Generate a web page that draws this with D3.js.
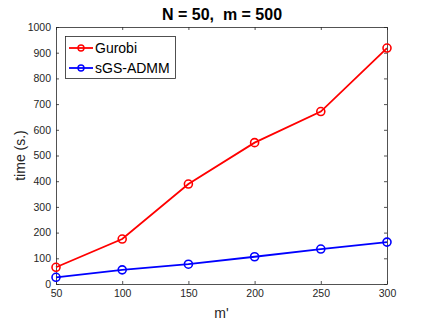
<!DOCTYPE html>
<html>
<head>
  <style type="text/css">
    body { margin: 0; background: #fff; }
    text { font-family: "Liberation Sans", Arial, sans-serif; }
  </style>
</head>
<body>
  <div id="chart"></div>
  <script src="https://cdn.jsdelivr.net/npm/d3@7"></script>
  <script>
    var mValues = [50, 100, 150, 200, 250, 300];
    var gurobi = [65, 175, 389, 550, 671, 918];
    var sgsAdmm = [26, 55, 77, 106, 136, 163];
    var xTicks = [50, 100, 150, 200, 250, 300];
    var yTicks = [0, 100, 200, 300, 400, 500, 600, 700, 800, 900, 1000];
    var seriesNames = ["Gurobi", "sGS-ADMM"];
    var seriesColors = ["#ff0000", "#0000ff"];

    var W = 428, H = 327;
    var pLeft = 56, pRight = 387, pTop = 27, pBottom = 284;

    var svg = d3.select("#chart").append("svg")
      .attr("width", W).attr("height", H);

    var x = d3.scaleLinear().domain([50, 300]).range([pLeft, pRight]);
    var y = d3.scaleLinear().domain([0, 1000]).range([pBottom, pTop]);

    var axisColor = "#262626";
    var fmt = d3.format("d");

    // axes box
    var gx = svg.append("g").attr("transform", "translate(0," + pBottom + ")")
      .call(d3.axisBottom(x).tickValues(xTicks).tickFormat(fmt).tickSizeInner(-3).tickSizeOuter(0).tickPadding(6));
    var gxt = svg.append("g").attr("transform", "translate(0," + pTop + ")")
      .call(d3.axisTop(x).tickValues(xTicks).tickSizeInner(-3).tickSizeOuter(0).tickFormat(""));
    var gy = svg.append("g").attr("transform", "translate(" + pLeft + ",0)")
      .call(d3.axisLeft(y).tickValues(yTicks).tickFormat(fmt).tickSizeInner(-3).tickSizeOuter(0).tickPadding(5));
    var gyr = svg.append("g").attr("transform", "translate(" + pRight + ",0)")
      .call(d3.axisRight(y).tickValues(yTicks).tickSizeInner(-3).tickSizeOuter(0).tickFormat(""));

    [gx, gxt, gy, gyr].forEach(function (g) {
      g.selectAll("path,line").attr("stroke", axisColor).attr("stroke-width", 0.8);
      g.selectAll("text").attr("fill", axisColor)
        .style("font-family", "'Liberation Sans', Arial, sans-serif").style("font-size", "10.5px");
    });

    var line = d3.line().x(function (d) { return x(d[0]); }).y(function (d) { return y(d[1]); });

    [gurobi, sgsAdmm].forEach(function (vals, i) {
      var pts = mValues.map(function (m, j) { return [m, vals[j]]; });
      svg.append("path").datum(pts).attr("d", line)
        .attr("fill", "none").attr("stroke", seriesColors[i]).attr("stroke-width", 1.8);
      svg.selectAll(".pt" + i).data(pts).enter().append("circle")
        .attr("class", "pt" + i)
        .attr("cx", function (d) { return x(d[0]); })
        .attr("cy", function (d) { return y(d[1]); })
        .attr("r", 4).attr("fill", "none")
        .attr("stroke", seriesColors[i]).attr("stroke-width", 1.6);
    });

    // title and labels
    svg.append("text").attr("x", 222).attr("y", 20)
      .attr("text-anchor", "middle").style("font-size", "16px").style("font-weight", "bold")
      .attr("fill", "#000").style("white-space", "pre").text("N = 50,  m = 500");
    svg.append("text").attr("x", (pLeft + pRight) / 2).attr("y", 318)
      .attr("text-anchor", "middle").style("font-size", "14px").attr("fill", axisColor).text("m'");
    svg.append("text").attr("transform", "translate(25," + ((pTop + pBottom) / 2) + ") rotate(-90)")
      .attr("text-anchor", "middle").style("font-size", "14px").attr("fill", axisColor).text("time (s.)");

    // legend
    var lg = svg.append("g");
    lg.append("rect").attr("x", 65.5).attr("y", 36.5).attr("width", 110).attr("height", 42)
      .attr("fill", "#fff").attr("stroke", axisColor).attr("stroke-width", 0.8);
    seriesNames.forEach(function (name, i) {
      var yy = 48 + i * 20;
      lg.append("line").attr("x1", 69).attr("x2", 93).attr("y1", yy).attr("y2", yy)
        .attr("stroke", seriesColors[i]).attr("stroke-width", 1.8);
      lg.append("circle").attr("cx", 81).attr("cy", yy).attr("r", 3)
        .attr("fill", "none").attr("stroke", seriesColors[i]).attr("stroke-width", 1.4);
      lg.append("text").attr("x", 95).attr("y", yy + 5).style("font-size", "14px")
        .attr("fill", "#000").text(name);
    });
  </script>
</body>
</html>
